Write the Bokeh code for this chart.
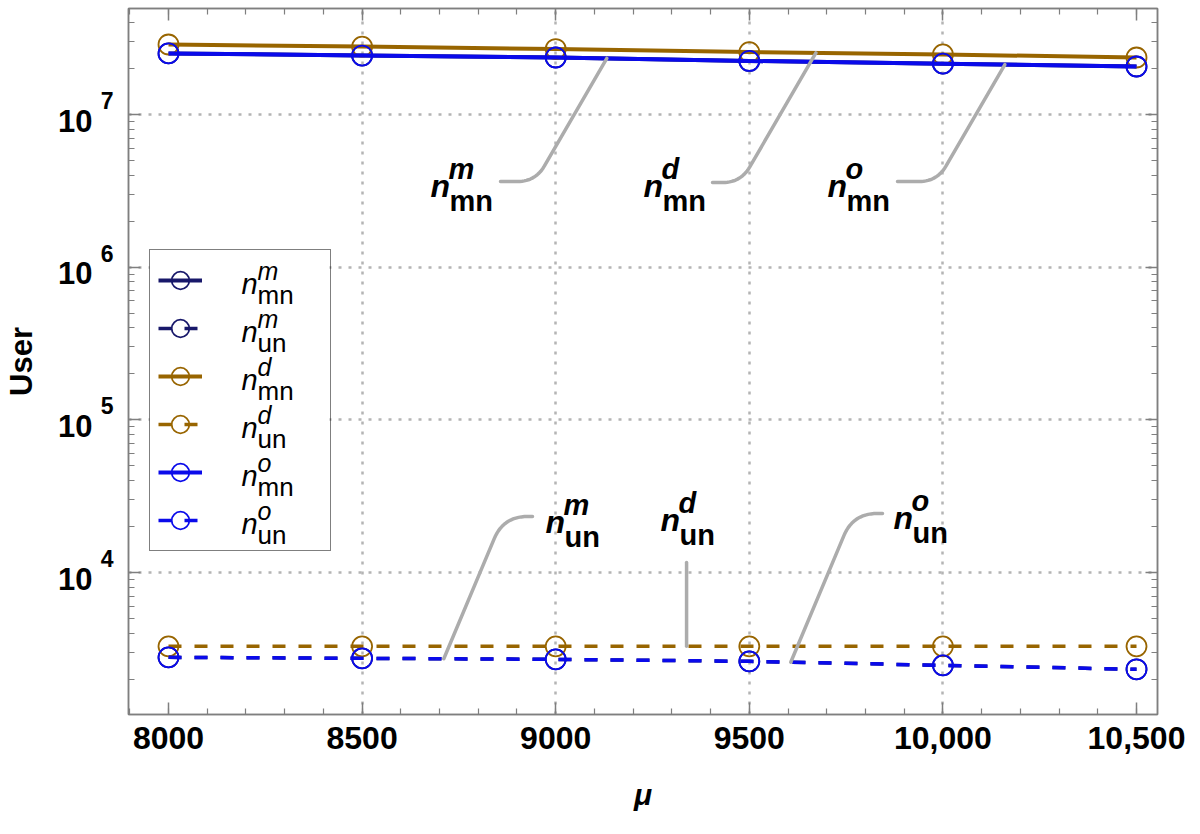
import numpy as np
from bokeh.plotting import figure
from bokeh.models import (Range1d, LinearScale, LinearAxis, LogAxis, SingleIntervalTicker,
                          LogTicker, FixedTicker, CustomJSTickFormatter, Legend, LegendItem, Label)
from bokeh.embed import file_html
from bokeh.resources import INLINE

# ---- data -------------------------------------------------------------
mu = [8000, 8500, 9000, 9500, 10000, 10500]
x_tick_labels = ["8000", "8500", "9000", "9500", "10,000", "10,500"]
y_tick_exponents = [4, 5, 6, 7]

n_mn_m = [2.51e7, 2.43e7, 2.36e7, 2.24e7, 2.15e7, 2.06e7]
n_un_m = [2782, 2741, 2699, 2618, 2466, 2323]
n_mn_d = [2.87e7, 2.78e7, 2.68e7, 2.56e7, 2.47e7, 2.36e7]
n_un_d = [3283, 3283, 3283, 3283, 3283, 3283]
n_mn_o = [2.51e7, 2.43e7, 2.36e7, 2.24e7, 2.15e7, 2.06e7]
n_un_o = [2782, 2741, 2699, 2618, 2466, 2323]

# ---- style ------------------------------------------------------------
NAVY, BROWN, BLUE = "#18186a", "#986500", "#0a0aea"
GRID = "#b4b4b4"
AXIS = "#7f7f7f"
LEADER = "#acacac"
SANS = "'Liberation Sans', Arial, sans-serif"

FW, FH = 1029, 706
X0, X1 = 7896.7, 10554.2
Y0, Y1 = 1175.0, 4.94e7
LEFT, TOP = 128, 8

p = figure(frame_width=FW, frame_height=FH,
           x_range=Range1d(X0, X1), y_range=Range1d(Y0, Y1), y_axis_type="log",
           output_backend="svg", toolbar_location=None,
           min_border_left=LEFT, min_border_right=1200 - LEFT - FW,
           min_border_top=TOP, min_border_bottom=834 - TOP - FH,
           background_fill_color="white", border_fill_color="white",
           outline_line_color=AXIS, outline_line_width=1.5)

# pixel-space ranges for the callout leader lines and the legend panel
p.extra_x_ranges = {"px": Range1d(0, FW)}
p.extra_y_ranges = {"px": Range1d(FH, 0)}
p.extra_x_scales = {"px": LinearScale()}
p.extra_y_scales = {"px": LinearScale()}

blank = CustomJSTickFormatter(code="return ''")
xticker = SingleIntervalTicker(interval=500, num_minor_ticks=5)
yticker = LogTicker(num_minor_ticks=10)


def style_axis(ax, labels=True):
    ax.axis_line_color = AXIS
    ax.axis_line_width = 1.5
    ax.major_tick_line_color = AXIS
    ax.minor_tick_line_color = AXIS
    ax.major_tick_line_width = 1.5
    ax.minor_tick_line_width = 1.2
    ax.major_tick_in = 12
    ax.major_tick_out = 0
    ax.minor_tick_in = 6
    ax.minor_tick_out = 0
    if not labels:
        ax.formatter = blank
        ax.major_label_text_font_size = "0px"
        ax.major_label_standoff = 0


def label_only_axis(ax):
    ax.axis_line_color = None
    ax.major_tick_line_color = None
    ax.minor_tick_line_color = None
    ax.major_tick_in = 0
    ax.major_tick_out = 0
    ax.minor_tick_in = 0
    ax.minor_tick_out = 0
    ax.major_label_text_font = SANS
    ax.major_label_text_font_style = "bold"
    ax.major_label_text_color = "black"


# bottom axis
xa = p.xaxis[0]
xa.ticker = xticker
style_axis(xa)
xa.major_label_overrides = {m: t for m, t in zip(mu, x_tick_labels)}
xa.major_label_text_font = SANS
xa.major_label_text_font_style = "bold"
xa.major_label_text_font_size = "32px"
xa.major_label_text_color = "black"
xa.major_label_standoff = 12
xa.axis_label = "μ"
xa.axis_label_text_font = SANS
xa.axis_label_text_font_style = "bold italic"
xa.axis_label_text_font_size = "30px"
xa.axis_label_text_color = "black"
xa.axis_label_standoff = 26

# left: tick axis next to the frame, then decade exponents, then the "10" bases
ya = p.yaxis[0]
ya.ticker = yticker
style_axis(ya, labels=False)

EXP_RAISE = 0.092   # exponent sits above the decade line (in decades)
BASE_DROP = 0.04    # base "10" sits slightly below the decade line

exp_axis = LogAxis(ticker=FixedTicker(ticks=[10.0 ** (e + EXP_RAISE) for e in y_tick_exponents],
                                      minor_ticks=[]),
                   formatter=CustomJSTickFormatter(
                       code=f"return String(Math.round(Math.log10(tick) - {EXP_RAISE}))"))
label_only_axis(exp_axis)
exp_axis.major_label_text_font_size = "23px"
exp_axis.major_label_standoff = 15
p.add_layout(exp_axis, "left")

base_axis = LogAxis(ticker=FixedTicker(ticks=[10.0 ** (e - BASE_DROP) for e in y_tick_exponents],
                                       minor_ticks=[]),
                    formatter=CustomJSTickFormatter(code="return '10'"))
label_only_axis(base_axis)
base_axis.major_label_text_font_size = "31px"
base_axis.major_label_standoff = 5
base_axis.axis_label = "User"
base_axis.axis_label_text_font = SANS
base_axis.axis_label_text_font_style = "bold"
base_axis.axis_label_text_font_size = "31px"
base_axis.axis_label_text_color = "black"
base_axis.axis_label_standoff = 16
p.add_layout(base_axis, "left")

top_ax = LinearAxis(ticker=xticker)
style_axis(top_ax, labels=False)
p.add_layout(top_ax, "above")
right_ax = LogAxis(ticker=yticker)
style_axis(right_ax, labels=False)
p.add_layout(right_ax, "right")

# dotted grid
p.xgrid.ticker = FixedTicker(ticks=mu[1:-1])
p.ygrid.ticker = FixedTicker(ticks=[10.0 ** e for e in y_tick_exponents])
for g in (p.xgrid[0], p.ygrid[0]):
    g.grid_line_color = GRID
    g.grid_line_width = 2.5
    g.grid_line_dash = "3 7"

# white panel behind the legend (hides the grid)
p.quad(left=[21], right=[201], top=[243], bottom=[543], x_range_name="px", y_range_name="px",
       fill_color="white", line_color=None)

# ---- series -----------------------------------------------------------
series = [
    ("m", "mn", n_mn_m, NAVY, "solid", 4),
    ("m", "un", n_un_m, NAVY, "13 13", 3.5),
    ("d", "mn", n_mn_d, BROWN, "solid", 4),
    ("d", "un", n_un_d, BROWN, "13 13", 3.5),
    ("o", "mn", n_mn_o, BLUE, "solid", 4),
    ("o", "un", n_un_o, BLUE, "13 13", 3.5),
]
legend_items = []
for sup, sub, vals, color, dash, lw in series:
    lr = p.line(mu, vals, line_color=color, line_width=lw, line_dash=dash)
    sr = p.scatter(mu, vals, marker="circle", size=20, fill_color=None,
                   line_color=color, line_width=1.8)
    legend_items.append(LegendItem(label="", renderers=[lr, sr]))

legend = Legend(items=legend_items, location=(21, 163), orientation="vertical",
                glyph_width=44, glyph_height=44, label_height=44, spacing=4,
                padding=8, margin=0, label_width=115, label_standoff=5,
                border_line_color="black", border_line_width=1.2,
                background_fill_alpha=0.0)
p.add_layout(legend)


def page_label(xp, yp, text, size, style):
    """Text placed by page pixel position, yp being the glyph baseline."""
    lift = 0.24 * size   # Label's alphabetic anchor renders a little low
    p.add_layout(Label(x=xp - LEFT, y=TOP + FH - yp + lift, x_units="screen", y_units="screen",
                       text=text, text_align="left", text_baseline="alphabetic",
                       text_font=SANS, text_font_style=style,
                       text_font_size=f"{size}px", text_color="black"))


# legend entries n^sup_sub
for i, (sup, sub, *_rest) in enumerate(series):
    yb = 290 + 48 * i
    page_label(241, yb, "n", 29, "italic")
    page_label(257, yb - 14, sup, 25, "italic")
    page_label(257, yb + 11, sub, 26, "normal")

# ---- callouts ---------------------------------------------------------
def to_px(m, vals):
    lv = np.interp(m, mu, np.log10(vals))
    px = (m - X0) / (X1 - X0) * FW
    py = (np.log10(Y1) - lv) / (np.log10(Y1) - np.log10(Y0)) * FH
    return px, py


def leader(start, end, k, r):
    xs, ys = start
    xe, ye = end
    xc = xe + k * (ye - ys)
    sgn = 1 if xs > xc else -1
    p0 = np.array([xc + sgn * r, ys])
    c = np.array([xc, ys])
    d = np.array([xe - xc, ye - ys])
    p2 = c + d / np.hypot(*d) * r
    t = np.linspace(0, 1, 16)[:, None]
    curve = (1 - t) ** 2 * p0 + 2 * (1 - t) * t * c + t ** 2 * p2
    pts = np.vstack([[xs, ys], curve, [xe, ye]])
    return pts[:, 0], pts[:, 1]


callouts = [
    # (sup, sub, series values, anchor mu, text origin (page), leader start (page), slope, radius)
    ("m", "mn", n_mn_m, 9132, (430, 193), (500, 181), 0.58, 18),
    ("d", "mn", n_mn_d, 9672, (643, 193), (712, 182), 0.58, 18),
    ("o", "mn", n_mn_o, 10160, (827, 193), (897, 181), 0.58, 18),
    ("m", "un", n_un_m, 8711, (545, 529), (532, 516), 0.42, 24),
    ("d", "un", n_un_d, 9338, (660, 527), None, 0, 0),
    ("o", "un", n_un_o, 9607, (893, 525), (882, 513), 0.42, 24),
]
for sup, sub, vals, m_anchor, (tx, ty), start, k, r in callouts:
    ex, ey = to_px(m_anchor, vals)
    if start is None:
        lx, ly = [ex, ex], [562 - TOP, ey]
    else:
        lx, ly = leader((start[0] - LEFT, start[1] - TOP), (ex, ey), k, r)
    p.line(lx, ly, x_range_name="px", y_range_name="px",
           line_color=LEADER, line_width=3.5, line_cap="round", line_join="round")
    page_label(tx, ty, "n", 32, "bold italic")
    page_label(tx + 18, ty - 18, sup, 29, "bold italic")
    page_label(tx + 19, ty + 14, sub, 29, "bold")

open("out.html", "w").write(file_html(p, INLINE))
